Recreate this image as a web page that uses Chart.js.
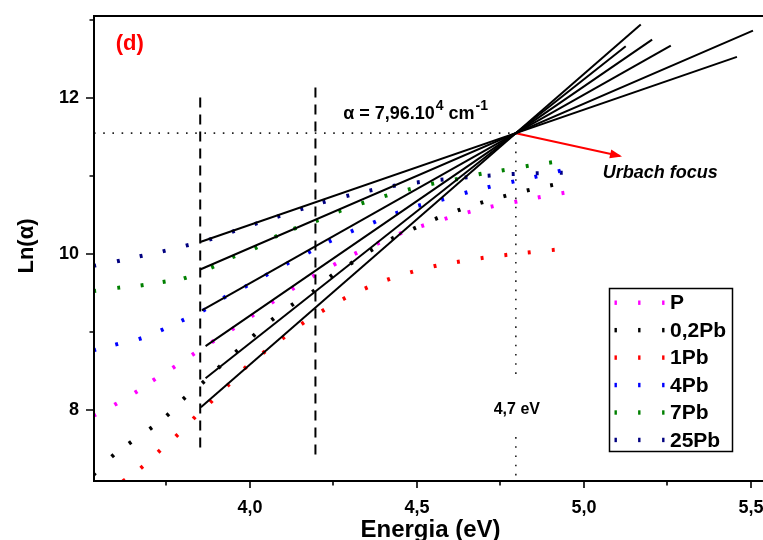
<!DOCTYPE html>
<html>
<head>
<meta charset="utf-8">
<script src="https://cdn.jsdelivr.net/npm/chart.js@4/dist/chart.umd.min.js"></script>
<style>
  html, body { margin: 0; padding: 0; background: #fff; overflow: hidden; }
  #wrap { width: 763px; height: 540px; position: relative; }
</style>
</head>
<body>
<div id="wrap"><canvas id="c" width="763" height="540"></canvas></div>
<script>
// Samples and their marker colours
const seriesNames = ['P', '0,2Pb', '1Pb', '4Pb', '7Pb', '25Pb'];
const seriesColors = ['#ff00ff', '#000000', '#ff0000', '#0000ff', '#008000', '#000080'];

// Photon energy (eV) and ln(alpha) for each sample
const energyP = [3.535, 3.598, 3.659, 3.713, 3.772, 3.830, 3.889, 3.949, 4.008, 4.068, 4.129, 4.191, 4.254, 4.317, 4.384, 4.451, 4.517, 4.587, 4.656, 4.725, 4.796, 4.866, 4.937];
const lnAlphaP = [7.935, 8.076, 8.232, 8.389, 8.549, 8.716, 8.878, 9.041, 9.211, 9.384, 9.556, 9.717, 9.867, 10.008, 10.136, 10.264, 10.361, 10.453, 10.536, 10.607, 10.668, 10.726, 10.780];

const energy02Pb = [3.534, 3.589, 3.641, 3.703, 3.754, 3.803, 3.860, 3.908, 3.960, 4.012, 4.068, 4.127, 4.190, 4.243, 4.304, 4.364, 4.427, 4.493, 4.558, 4.626, 4.694, 4.763, 4.833, 4.903];
const lnAlpha02Pb = [7.182, 7.416, 7.581, 7.767, 7.941, 8.152, 8.356, 8.552, 8.753, 8.958, 9.163, 9.350, 9.522, 9.717, 9.883, 10.050, 10.200, 10.329, 10.453, 10.562, 10.658, 10.741, 10.816, 10.880];

const energy1Pb = [3.623, 3.676, 3.728, 3.781, 3.833, 3.884, 3.935, 3.986, 4.042, 4.100, 4.158, 4.219, 4.282, 4.348, 4.415, 4.484, 4.554, 4.624, 4.695, 4.766, 4.836, 4.908];
const lnAlpha1Pb = [7.100, 7.268, 7.473, 7.675, 7.901, 8.108, 8.321, 8.542, 8.740, 8.926, 9.112, 9.275, 9.429, 9.563, 9.675, 9.768, 9.845, 9.900, 9.948, 9.986, 10.020, 10.050];

const energy4Pb = [3.535, 3.601, 3.671, 3.737, 3.799, 3.863, 3.924, 3.988, 4.050, 4.113, 4.178, 4.240, 4.306, 4.373, 4.440, 4.508, 4.577, 4.647, 4.716, 4.787, 4.856, 4.926];
const lnAlpha4Pb = [8.769, 8.843, 8.914, 9.028, 9.151, 9.282, 9.444, 9.586, 9.732, 9.880, 10.024, 10.165, 10.293, 10.408, 10.524, 10.622, 10.697, 10.784, 10.857, 10.924, 10.988, 11.061];

const energy7Pb = [3.535, 3.607, 3.677, 3.743, 3.806, 3.888, 3.951, 4.018, 4.078, 4.135, 4.201, 4.269, 4.338, 4.407, 4.477, 4.547, 4.618, 4.689, 4.758, 4.830, 4.900];
const lnAlpha7Pb = [9.525, 9.567, 9.598, 9.644, 9.691, 9.832, 9.964, 10.079, 10.225, 10.328, 10.425, 10.549, 10.652, 10.745, 10.827, 10.899, 10.956, 11.023, 11.070, 11.125, 11.170];

const energy25Pb = [3.535, 3.606, 3.674, 3.743, 3.812, 3.882, 3.950, 4.018, 4.086, 4.155, 4.222, 4.293, 4.362, 4.432, 4.504, 4.575, 4.647, 4.716, 4.788, 4.860, 4.932];
const lnAlpha25Pb = [9.849, 9.909, 9.973, 10.037, 10.110, 10.187, 10.289, 10.387, 10.481, 10.575, 10.665, 10.745, 10.814, 10.873, 10.917, 10.950, 10.981, 11.001, 11.023, 11.032, 11.040];

const energies = [energyP, energy02Pb, energy1Pb, energy4Pb, energy7Pb, energy25Pb];
const lnAlphas = [lnAlphaP, lnAlpha02Pb, lnAlpha1Pb, lnAlpha4Pb, lnAlpha7Pb, lnAlpha25Pb];

// Urbach fits: all lines meet at the focus
const focusE = 4.796;
const focusLn = 11.546;
const fitSlope = [2.936, 3.379, 3.723, 2.414, 1.848, 1.475];
const fitFrom = [3.867, 3.867, 3.853, 3.856, 3.851, 3.851];
const fitTo = [5.204, 5.125, 5.170, 5.260, 5.506, 5.458];

// Fit window limits (dashed)
const windowE = [3.851, 4.196];
const windowLow = [7.52, 7.43];
const windowHigh = [12.034, 12.16];

// Axis ranges and tick values
const xRange = [3.533, 5.536];
const yRange = [7.092, 13.046];
const xMajorTicks = [4.0, 4.5, 5.0, 5.5];
const xMinorTicks = [3.75, 4.25, 4.75, 5.25];
const yMajorTicks = [8, 10, 12];
const yMinorTicks = [9, 11, 13];

// Arrow to the focus label, and the gap left in the vertical guide for its label
const arrowTip = { x: 5.108, y: 11.254 };
const guideGap = [7.655, 8.437];

const FONT = "'Liberation Sans', Arial, Helvetica, sans-serif";

function perpAngle(ctx) {
  const ds = ctx.dataset && ctx.dataset.data;
  const i = ctx.dataIndex;
  const xs = ctx.chart.scales.x, ys = ctx.chart.scales.y;
  if (!xs || !ys || !ds || i === undefined || ds.length < 2) return 90;
  const a = ds[Math.max(i - 1, 0)], b = ds[Math.min(i + 1, ds.length - 1)];
  const dx = xs.getPixelForValue(b.x) - xs.getPixelForValue(a.x);
  const dy = ys.getPixelForValue(b.y) - ys.getPixelForValue(a.y);
  return Math.atan2(dy, dx) * 180 / Math.PI + 90;
}

const datasets = [];

seriesNames.forEach((name, k) => {
  datasets.push({
    type: 'scatter',
    label: name,
    data: energies[k].map((e, i) => ({ x: e, y: lnAlphas[k][i] })),
    showLine: false,
    pointStyle: 'line',
    pointRadius: 2,
    pointBorderWidth: 2.9,
    pointBorderColor: seriesColors[k],
    pointBackgroundColor: seriesColors[k],
    rotation: perpAngle,
    order: 10
  });
});

seriesNames.forEach((name, k) => {
  datasets.push({
    type: 'line',
    label: 'fit ' + name,
    data: [fitFrom[k], fitTo[k]].map(e => ({ x: e, y: focusLn + fitSlope[k] * (e - focusE) })),
    borderColor: '#000',
    borderWidth: 2,
    pointRadius: 0,
    fill: false,
    order: 1
  });
});

windowE.forEach((e, k) => {
  datasets.push({
    type: 'line',
    label: 'window',
    data: [{ x: e, y: windowLow[k] }, { x: e, y: windowHigh[k] }],
    borderColor: '#000',
    borderWidth: 2,
    borderDash: [10, 7],
    pointRadius: 0,
    order: 5
  });
});

// dotted guides through the focus
const dotted = { borderColor: '#222', borderWidth: 1.6, borderDash: [1.6, 7.6], borderCapStyle: 'butt', pointRadius: 0, order: 6 };
datasets.push(Object.assign({ type: 'line', label: 'guide h',
  data: [{ x: xRange[0], y: focusLn }, { x: focusE, y: focusLn }] }, dotted));
datasets.push(Object.assign({ type: 'line', label: 'guide v1',
  data: [{ x: focusE, y: focusLn }, { x: focusE, y: guideGap[1] }] }, dotted));
datasets.push(Object.assign({ type: 'line', label: 'guide v2',
  data: [{ x: focusE, y: guideGap[0] }, { x: focusE, y: yRange[0] }] }, dotted));
datasets.push({
  type: 'line', label: 'arrow',
  data: [{ x: focusE, y: focusLn }, arrowTip],
  borderColor: '#ff0000', borderWidth: 2,
  pointRadius: 0, order: 2
});

const decor = {
  id: 'decor',
  afterDraw(chart) {
    const { ctx, chartArea: a, scales: { x, y } } = chart;
    ctx.save();
    // axis frame: left, bottom, top
    ctx.strokeStyle = '#000';
    ctx.lineWidth = 2;
    ctx.beginPath();
    ctx.moveTo(a.left, a.top); ctx.lineTo(a.right, a.top);
    ctx.moveTo(a.left, a.top - 1); ctx.lineTo(a.left, a.bottom + 1);
    ctx.moveTo(a.left - 1, a.bottom); ctx.lineTo(a.right, a.bottom);
    ctx.stroke();
    ctx.lineWidth = 1.6;
    ctx.beginPath();
    xMajorTicks.forEach(v => { const px = Math.round(x.getPixelForValue(v)); ctx.moveTo(px, a.bottom); ctx.lineTo(px, a.bottom + 7); });
    xMinorTicks.forEach(v => { const px = Math.round(x.getPixelForValue(v)); ctx.moveTo(px, a.bottom); ctx.lineTo(px, a.bottom + 4.5); });
    yMajorTicks.forEach(v => { const py = Math.round(y.getPixelForValue(v)); ctx.moveTo(a.left, py); ctx.lineTo(a.left - 8, py); });
    yMinorTicks.forEach(v => { const py = Math.round(y.getPixelForValue(v)); ctx.moveTo(a.left, py); ctx.lineTo(a.left - 4.5, py); });
    ctx.stroke();

    // arrow head
    const fx = x.getPixelForValue(focusE), fy = y.getPixelForValue(focusLn);
    const tx = x.getPixelForValue(arrowTip.x), ty = y.getPixelForValue(arrowTip.y);
    const ang = Math.atan2(ty - fy, tx - fx);
    ctx.fillStyle = '#ff0000';
    ctx.beginPath();
    ctx.moveTo(tx + 2 * Math.cos(ang), ty + 2 * Math.sin(ang));
    ctx.lineTo(tx - 10 * Math.cos(ang) + 4.5 * Math.sin(ang), ty - 10 * Math.sin(ang) - 4.5 * Math.cos(ang));
    ctx.lineTo(tx - 10 * Math.cos(ang) - 4.5 * Math.sin(ang), ty - 10 * Math.sin(ang) + 4.5 * Math.cos(ang));
    ctx.closePath();
    ctx.fill();

    // axis titles
    ctx.fillStyle = '#000';
    ctx.font = `bold 24px ${FONT}`;
    ctx.textAlign = 'center';
    ctx.textBaseline = 'alphabetic';
    ctx.fillText('Energia (eV)', (a.left + a.right) / 2 + 2, 537);
    ctx.save();
    ctx.translate(33, 246);
    ctx.rotate(-Math.PI / 2);
    ctx.font = `bold 22px ${FONT}`;
    ctx.textBaseline = 'alphabetic';
    ctx.fillText('Ln(\u03b1)', 0, 0);
    ctx.restore();

    // panel letter
    ctx.fillStyle = '#ff0000';
    ctx.font = `bold 22px ${FONT}`;
    ctx.textAlign = 'center';
    ctx.textBaseline = 'middle';
    ctx.fillText('(d)', x.getPixelForValue(3.640), y.getPixelForValue(12.69));

    // absorption coefficient at the focus
    ctx.fillStyle = '#000';
    ctx.textAlign = 'left';
    ctx.textBaseline = 'alphabetic';
    let cx = x.getPixelForValue(4.279);
    const base = y.getPixelForValue(11.727);
    const parts = [['\u03b1 = 7,96.10', 0], ['4', 1], [' cm', 0], ['-1', 1]];
    parts.forEach(([t, sup]) => {
      ctx.font = sup ? `bold 14px ${FONT}` : `bold 18px ${FONT}`;
      ctx.fillText(t, cx + (sup ? 1 : 0), sup ? base - 9 : base);
      cx += ctx.measureText(t).width + (sup ? 1 : 0);
    });

    ctx.font = `bold italic 18px ${FONT}`;
    ctx.textBaseline = 'middle';
    ctx.fillText('Urbach focus', x.getPixelForValue(5.056), y.getPixelForValue(11.040));

    ctx.font = `bold 16px ${FONT}`;
    ctx.textAlign = 'center';
    ctx.fillText('4,7 eV', x.getPixelForValue(focusE) + 1, y.getPixelForValue(8.010));

    // legend
    const L = { left: 609.5, top: 288.5, right: 732.5, bottom: 451.5 };
    ctx.strokeStyle = '#000';
    ctx.lineWidth = 1.5;
    ctx.strokeRect(L.left, L.top, L.right - L.left, L.bottom - L.top);
    ctx.font = `bold 21px ${FONT}`;
    ctx.textAlign = 'left';
    ctx.textBaseline = 'middle';
    seriesNames.forEach((name, k) => {
      const ry = 302.7 + k * 27.45;
      ctx.fillStyle = seriesColors[k];
      [615.7, 639.3, 663.3].forEach(mx => ctx.fillRect(mx - 1.2, ry - 2.2, 2.4, 4.4));
      ctx.fillStyle = '#000';
      ctx.fillText(name, 670, ry + 1);
    });
    ctx.restore();
  }
};

new Chart(document.getElementById('c'), {
  type: 'scatter',
  data: { datasets },
  options: {
    responsive: false,
    animation: false,
    events: [],
    devicePixelRatio: 1,
    layout: { autoPadding: false, padding: { top: 16, right: 0, left: 0, bottom: 0 } },
    plugins: { legend: { display: false }, tooltip: { enabled: false } },
    scales: {
      x: {
        type: 'linear',
        min: xRange[0], max: xRange[1],
        grid: { display: false, drawTicks: false },
        border: { display: false },
        afterBuildTicks: s => { s.ticks = xMajorTicks.map(v => ({ value: v })); },
        afterFit: s => { s.height = 59; s.paddingLeft = 0; s.paddingRight = 0; },
        ticks: {
          autoSkip: false, maxRotation: 0, padding: 16, color: '#000',
          font: { family: FONT, size: 18, weight: 'bold' },
          callback: v => v.toFixed(1).replace('.', ',')
        }
      },
      y: {
        type: 'linear',
        min: yRange[0], max: yRange[1],
        grid: { display: false, drawTicks: false },
        border: { display: false },
        afterBuildTicks: s => { s.ticks = yMajorTicks.map(v => ({ value: v })); },
        afterFit: s => { s.width = 94; s.paddingTop = 0; s.paddingBottom = 0; },
        ticks: {
          autoSkip: false, padding: 15, color: '#000',
          font: { family: FONT, size: 18, weight: 'bold' },
          callback: v => String(v)
        }
      }
    }
  },
  plugins: [decor]
});
</script>
</body>
</html>
